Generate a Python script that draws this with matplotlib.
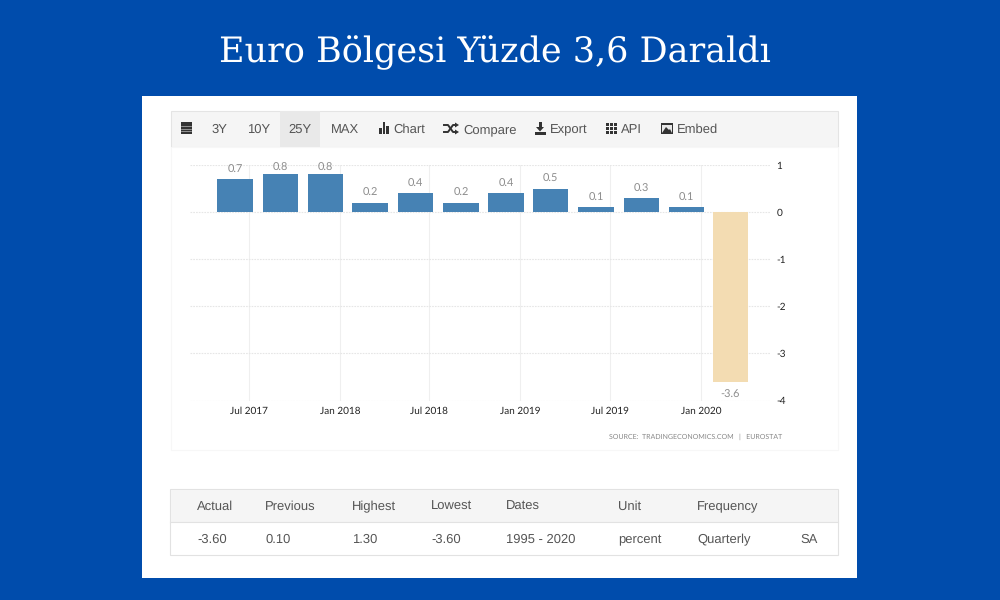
import matplotlib
matplotlib.use("Agg")
import matplotlib.pyplot as plt
from matplotlib.patches import Rectangle, Polygon
from datetime import date

plt.rcParams["text.hinting"] = "no_hinting"
plt.rcParams["text.hinting_factor"] = 1

title = "Euro Bölgesi Yüzde 3,6 Daraldı"
quarters = [date(2017,6,3), date(2017,9,3), date(2017,12,3), date(2018,3,3),
            date(2018,6,3), date(2018,9,3), date(2018,12,3), date(2019,3,3),
            date(2019,6,3), date(2019,9,3), date(2019,12,3), date(2020,3,1)]
growth = [0.7, 0.8, 0.8, 0.2, 0.4, 0.2, 0.4, 0.5, 0.1, 0.3, 0.1, -3.6]
xtick_dates = [date(2017,7,1), date(2018,1,1), date(2018,7,1),
               date(2019,1,1), date(2019,7,1), date(2020,1,1)]
xtick_labels = ["Jul 2017", "Jan 2018", "Jul 2018", "Jan 2019", "Jul 2019", "Jan 2020"]
yticks = [1, 0, -1, -2, -3, -4]
source = "SOURCE:  TRADINGECONOMICS.COM   |   EUROSTAT"
range_buttons = ["3Y", "10Y", "25Y", "MAX"]
tool_buttons = ["Chart", "Compare", "Export", "API", "Embed"]
table_head = ["Actual", "Previous", "Highest", "Lowest", "Dates", "Unit", "Frequency"]
table_vals = ["-3.60", "0.10", "1.30", "-3.60", "1995 - 2020", "percent", "Quarterly", "SA"]

BLUE_BG = "#004CAC"; BAR = "#4682B4"; NEG = "#F3DCB2"; GRID = "#E6E6E6"; VGRID = "#EFEFEF"
UI = "#555555"
SANS = "Liberation Sans"; CH = "Lato"

fig = plt.figure(figsize=(10, 6), dpi=100, facecolor=BLUE_BG)
bg = fig.add_axes([0, 0, 1, 1])
bg.set_xlim(0, 1000); bg.set_ylim(600, 0); bg.axis("off")

def box(x0, y0, x1, y1, fc, ec="none", lw=0.8):
    bg.add_patch(Rectangle((x0, y0), x1-x0, y1-y0, fc=fc, ec=ec, lw=lw))

bg.text(494.5, 62, title, color="white", family="DejaVu Serif", fontsize=24.9,
        ha="center", va="baseline")
box(142, 96, 857, 578, "white")

# toolbar
box(170.5, 110.5, 837.5, 147, "#F5F5F5", "#E4E4E4")
box(280, 111, 320, 146.5, "#E9E9E9")
for label, x in zip(range_buttons, [219.5, 258.5, 300, 345]):
    bg.text(x, 133, label, family=SANS, fontsize=9, color=UI, ha="center", va="baseline")
for label, x in zip(tool_buttons, [393.5, 463, 550, 620.5, 676.5]):
    bg.text(x, 133, label, family=SANS, fontsize=9, color=UI, ha="left", va="baseline")

ICON = "#333333"
# calendar
box(180.5, 122, 191.5, 134, ICON)
for yy in (125.5, 128.5, 131):
    bg.plot([181, 191], [yy, yy], color="#BBBBBB", lw=0.5)
# bars icon
box(379, 128, 381.5, 134, ICON); box(382.5, 122, 385, 134, ICON); box(386, 126, 389, 134, ICON)
# shuffle icon
bg.plot([444, 448, 453, 456], [125, 125, 132, 132], color=ICON, lw=1.4)
bg.plot([444, 448, 453, 456], [132, 132, 125, 125], color=ICON, lw=1.4)
bg.add_patch(Polygon([[455, 122.5], [459, 125], [455, 127.5]], fc=ICON))
bg.add_patch(Polygon([[455, 129.5], [459, 132], [455, 134.5]], fc=ICON))
# download icon
box(538.5, 122, 541.5, 128, ICON)
bg.add_patch(Polygon([[536, 127], [544, 127], [540, 131.5]], fc=ICON))
box(535, 132, 546, 134.5, ICON)
# grid icon
for gx in (606, 610, 614):
    for gy in (123, 127, 131):
        box(gx, gy, gx+3, gy+3, ICON)
# picture icon
box(660.5, 123, 673, 134, ICON)
box(662, 124.5, 671.5, 132.5, "#E8E8E8")
bg.add_patch(Polygon([[662, 133], [666, 127], [669, 130], [670, 129], [672, 133]], fc=ICON))

# chart panel frame
box(170.5, 147, 837.5, 450, "white", "#F7F7F7")

# table
box(170, 489, 838, 555, "white", "#E2E2E2")
box(170.5, 489.5, 837.5, 522, "#F5F5F5")
bg.plot([170, 838], [522, 522], color="#E2E2E2", lw=0.8)
for label, x in zip(table_head, [197, 265, 352, 431, 506, 618, 697]):
    bg.text(x, 510, label, family=SANS, fontsize=9, color=UI, ha="left", va="baseline")
for label, x in zip(table_vals, [197, 265, 352, 431, 506, 618, 697, 800]):
    bg.text(x, 543, label, family=SANS, fontsize=9, color=UI, ha="left", va="baseline")
bg.text(782, 437, source, family=CH, fontsize=5.4, color="#888888", ha="right", va="center")

# chart
ax = fig.add_axes([190/1000, 1-400.5/600, 580/1000, 235.5/600])
ax.patch.set_alpha(0)
ax.bar(quarters, growth, width=72,
       color=[NEG if v < 0 else BAR for v in growth], zorder=3)
ax.set_xlim(date(2017,3,4), date(2020,5,20))
ax.set_ylim(-4, 1)
ax.set_yticks(yticks)
ax.set_yticklabels([str(v) for v in yticks], family=CH, fontsize=7.4, color="#222222",
                   ha="left", va="center_baseline")
ax.yaxis.tick_right()
ax.set_xticks(xtick_dates)
ax.set_xticklabels(xtick_labels, family=CH, fontsize=7.1, color="#222222", va="baseline")
ax.tick_params(axis="y", length=0, pad=4.5)
ax.tick_params(axis="x", length=0, pad=9.7)
ax.grid(True, axis="x", color=VGRID, lw=0.8, zorder=0)
ax.grid(True, axis="y", color=GRID, lw=0.8, ls=(0, (1.5, 1)), zorder=0)
for s in ax.spines.values():
    s.set_visible(False)
for d, v in zip(quarters, growth):
    # the tallest labels are pushed down so they stay inside the plot area
    ax.annotate(f"{v:.1f}", (d, min(v, 0.75)), xytext=(0, 3.2 if v > 0 else -6),
                textcoords="offset points",
                ha="center", va="bottom" if v > 0 else "top",
                family=CH, fontsize=7.8, color="#8E8E8E", zorder=4)

fig.savefig("out.png", dpi=100, facecolor=BLUE_BG)
